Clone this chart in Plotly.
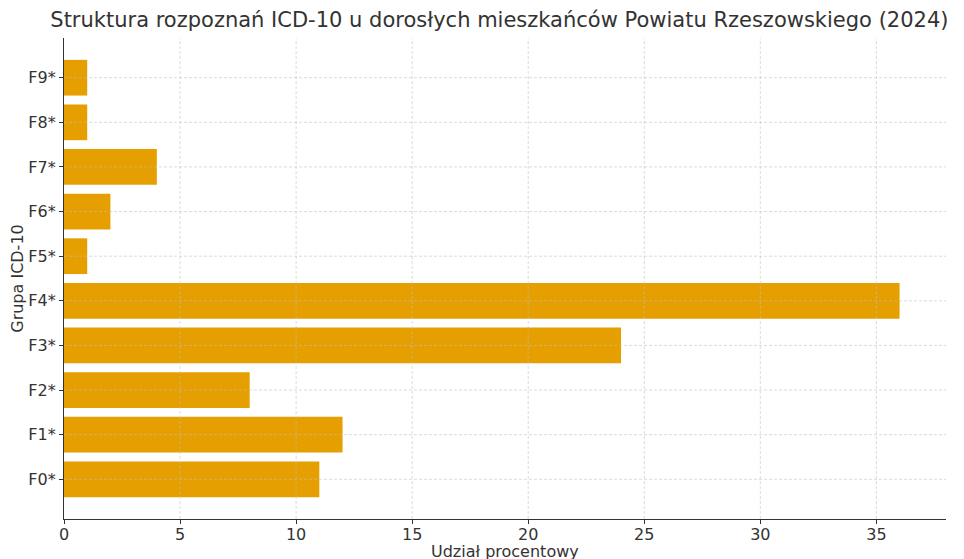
import plotly.graph_objects as go

categories = ["F0*", "F1*", "F2*", "F3*", "F4*", "F5*", "F6*", "F7*", "F8*", "F9*"]
values = [11, 12, 8, 24, 36, 1, 2, 4, 1, 1]
x_ticks = [0, 5, 10, 15, 20, 25, 30, 35]

FONT = "DejaVu Sans"
fig = go.Figure(go.Bar(
    x=values, y=categories, orientation="h",
    marker=dict(color="#E69F00", line=dict(width=0)),
    width=0.8,
))

grid = dict(color="rgba(190,190,190,0.7)", width=0.8, dash="3px,2px")
shapes = []
for t in x_ticks[1:]:
    shapes.append(dict(type="line", xref="x", yref="paper", x0=t, x1=t, y0=0, y1=1,
                       line=grid, layer="above"))
for c in categories:
    shapes.append(dict(type="line", xref="paper", yref="y", x0=0, x1=1, y0=c, y1=c,
                       line=grid, layer="above"))

fig.update_layout(
    width=956, height=551,
    margin=dict(l=56, r=18, t=30, b=40),
    paper_bgcolor="white", plot_bgcolor="white",
    font=dict(family=FONT, color="#333333", size=16),
    title=dict(text="Struktura rozpoznań ICD-10 u dorosłych mieszkańców Powiatu Rzeszowskiego (2024)",
               x=0.514, xanchor="center", y=0.978, yanchor="middle",
               font=dict(size=21, family=FONT, color="#333333")),
    showlegend=False,
    shapes=shapes,
    bargap=0.2,
    annotations=[dict(text="Udział procentowy", xref="paper", yref="paper", x=0.5, y=0,
                      xanchor="center", yanchor="top", yshift=-21, showarrow=False,
                      font=dict(size=16, family=FONT, color="#333333"))],
)
fig.update_xaxes(
    range=[0, 38], tickvals=x_ticks, showgrid=False, zeroline=False, automargin=False,
    showline=True, linecolor="#333333", linewidth=1.2,
    ticks="outside", ticklen=4, tickcolor="#333333", ticklabelstandoff=-3,
    tickfont=dict(size=16, family=FONT, color="#333333"),
)
fig.update_yaxes(
    range=[-0.89, 9.89], showgrid=False, zeroline=False, automargin=False,
    showline=True, linecolor="#333333", linewidth=1.2,
    ticks="outside", ticklen=4, tickcolor="#333333",
    tickfont=dict(size=16, family=FONT, color="#333333"),
    title=dict(text="Grupa ICD-10", standoff=0, font=dict(size=16, family=FONT)),
)

fig.write_html("out.html")
